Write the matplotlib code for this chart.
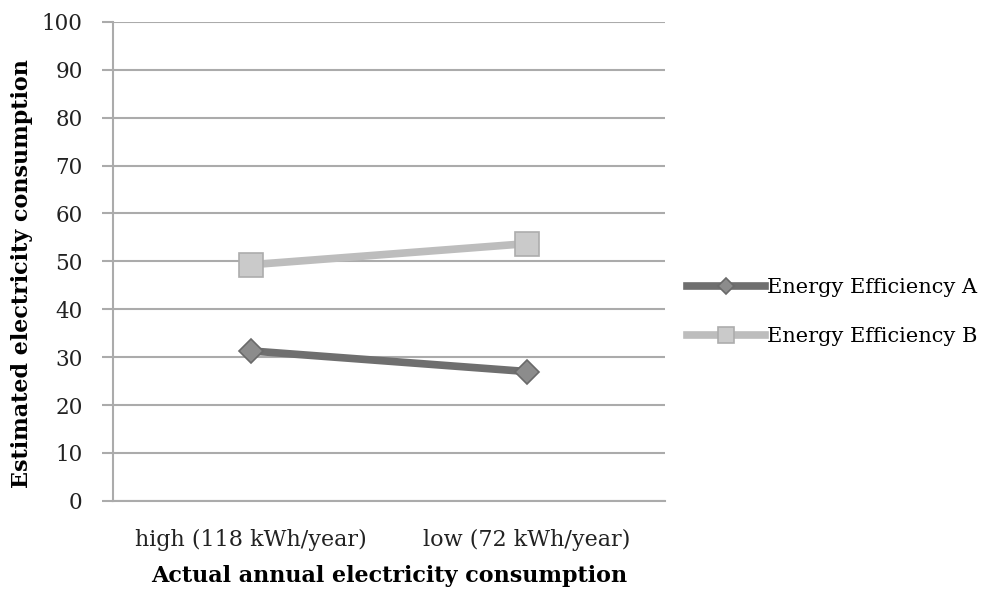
import matplotlib
matplotlib.use('Agg')
from matplotlib import pyplot as plt
from matplotlib import rcParams

rcParams['font.family'] = ['DejaVu Serif']

categories = ['high (118 kWh/year)', 'low (72 kWh/year)']
series_names = ['Energy Efficiency A', 'Energy Efficiency B']
eff_a = [31.3, 27.0]
eff_b = [49.3, 53.7]

fig = plt.figure(figsize=(9.92, 5.92), dpi=100)
ax = fig.add_axes([0.114, 0.154, 0.556, 0.809])

xs = [0.5, 1.5]
ax.plot(xs, eff_a, color='#6f6f6f', lw=5.5, marker='D', ms=12.5,
        mfc='#8c8c8c', mec='#6a6a6a', mew=1.2, label=series_names[0], zorder=3)
ax.plot(xs, eff_b, color='#bdbdbd', lw=5.5, marker='s', ms=17,
        mfc='#cacaca', mec='#adadad', mew=1.2, label=series_names[1], zorder=3)

ax.set_xlim(0, 2)
ax.set_ylim(0, 100)
ax.set_yticks(range(0, 101, 10))
ax.set_xticks(xs)
ax.set_xticklabels(categories)
ax.yaxis.grid(True, color='#ababab', lw=1.5)
ax.set_axisbelow(True)
for s in ['top', 'right']:
    ax.spines[s].set_visible(False)
ax.spines['left'].set_color('#ababab')
ax.spines['bottom'].set_color('#ababab')
ax.spines['left'].set_linewidth(1.5)
ax.spines['bottom'].set_linewidth(1.5)
ax.tick_params(axis='y', length=8, width=1.5, color='#ababab', labelsize=15.5,
               labelcolor='#222222', pad=14)
ax.tick_params(axis='x', length=0, labelsize=16, labelcolor='#222222', pad=20)

ax.set_ylabel('Estimated electricity consumption', fontsize=16, fontweight='bold')
ax.set_xlabel('Actual annual electricity consumption', fontsize=16, fontweight='bold', labelpad=10)
ax.yaxis.set_label_coords(-0.145, 0.474)

# legend to the right of the plot, no frame
fig.legend(loc='center left', bbox_to_anchor=(0.693, 0.473), frameon=False,
           fontsize=15, handlelength=3.7, handletextpad=0.1, labelspacing=1.45,
           borderpad=0, borderaxespad=0, markerscale=0.65)

fig.savefig('out.png', dpi=100)
